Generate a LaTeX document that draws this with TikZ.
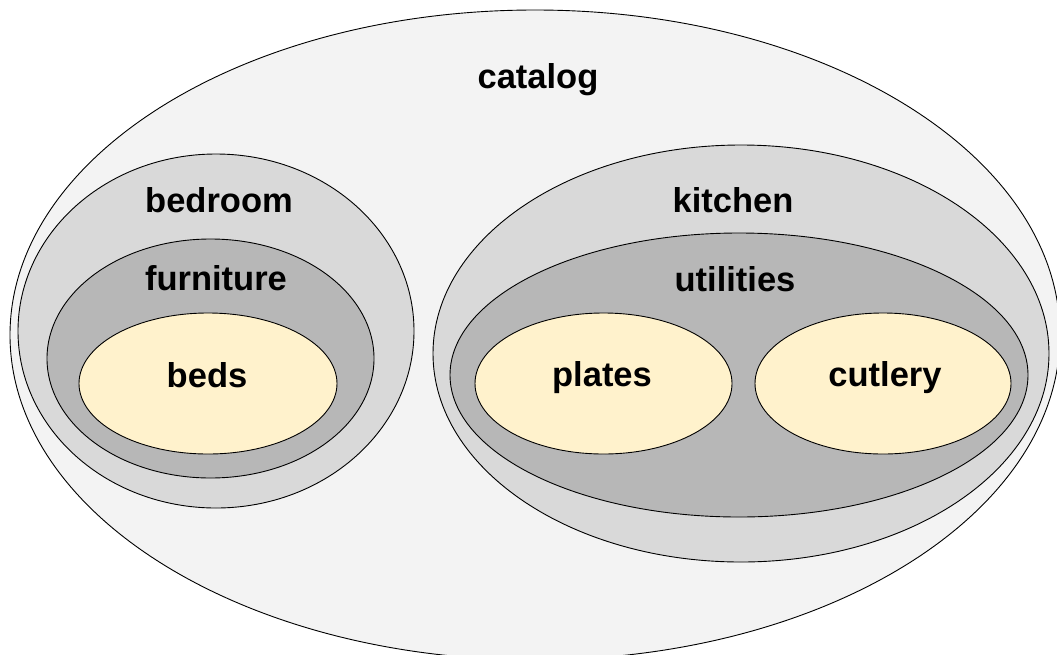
\documentclass[tikz,border=0pt]{standalone}
\usepackage{fontspec}
\setmainfont{Liberation Sans}
\usetikzlibrary{shapes.geometric}

\definecolor{setouter}{HTML}{F3F3F3}
\definecolor{setroom}{HTML}{D9D9D9}
\definecolor{setgroup}{HTML}{B7B7B7}
\definecolor{setleaf}{HTML}{FFF2CC}

\begin{document}
\begin{tikzpicture}[x=1pt, y=-1pt,
		set/.style={shape= ellipse, draw, line width=0.9pt, inner sep=0pt},
		lbl/.style={anchor=base, font=\bfseries\fontsize{34.5}{40}\selectfont}]
		\useasboundingbox (0,0) rectangle (1057,654);
		\clip (0,0) rectangle (1057,654);
		% Sets
		\node[set, fill=setouter, minimum width=1050, minimum height=650] (Cat) at (535,335) {};
		%% Left branch
		\node[set, fill=setroom, minimum width=396, minimum height=354] (Bed) at (216,331) {};
		\node[set, fill=setgroup, minimum width=327, minimum height=239] (Fur) at (210.5,358.5) {};
		\node[set, fill=setleaf, minimum width=258, minimum height=141] (Beds) at (208,383.5) {};
		%% Right branch
		\node[set, fill=setroom, minimum width=616, minimum height=417] (Kit) at (741,353.5) {};
		\node[set, fill=setgroup, minimum width=578, minimum height=284] (Uti) at (739,375) {};
		\node[set, fill=setleaf, minimum width=257, minimum height=141] (Pla) at (603.5,383.5) {};
		\node[set, fill=setleaf, minimum width=256, minimum height=141] (Cut) at (883,383.5) {};
		% Labels
		\node[lbl] (CatL) at (538,88) {catalog};
		\node[lbl] (BedL) at (219,212) {bedroom};
		\node[lbl] (FurL) at (216,290) {furniture};
		\node[lbl] (BedsL) at (207,387) {beds};
		\node[lbl] (KitL) at (733,212) {kitchen};
		\node[lbl] (UtiL) at (735,291) {utilities};
		\node[lbl] (PlaL) at (602,386) {plates};
		\node[lbl] (CutL) at (885,386) {cutlery};
	\end{tikzpicture}
\end{document}
